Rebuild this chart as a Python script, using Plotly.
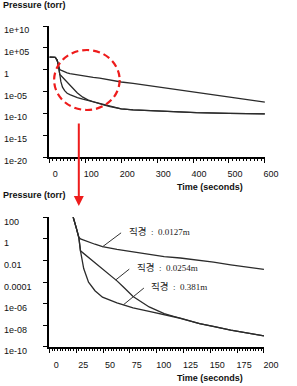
import numpy as np
import plotly.graph_objects as go

# ---------------- data ----------------
time_s = [0, 12, 16, 19, 22, 25, 27.5, 29, 32, 36.5, 42.5, 49.5, 57, 63, 69, 78,
          93, 107, 122, 140, 153, 169, 200, 233, 300, 409, 500, 600]

p_0127 = [760, 740, 630, 320, 120, 11, 1.4, 1.0, 0.76, 0.5, 0.32, 0.19, 0.13, 0.105,
          0.085, 0.063, 0.035, 0.023, 0.017, 0.011, 0.0071, 0.004, 0.0015, 7.1e-4,
          1.1e-4, 6.3e-6, 5.6e-7, 3.5e-8]
p_0254 = [760, 740, 630, 320, 120, 11, 1.26, 0.079, 0.045, 0.018, 0.0056, 0.0015,
          4.0e-4, 1.3e-4, 3.5e-5, 4.7e-6, 5.0e-7, 1.2e-7, 4.5e-8, 1.4e-8, 7.9e-9,
          3.5e-9, 1.07e-9, 6.3e-10, 3.2e-10, 1.45e-10, 1.0e-10, 7.9e-11]
p_0381 = [760, 740, 630, 320, 120, 11, 1.26, 0.079, 1.8e-3, 1.0e-4, 1.6e-5, 4.0e-6,
          1.9e-6, 1.2e-6, 7.9e-7, 4.2e-7, 1.9e-7, 9.5e-8, 4.5e-8, 1.4e-8, 7.9e-9,
          3.5e-9, 1.07e-9, 6.3e-10, 3.2e-10, 1.45e-10, 1.0e-10, 7.9e-11]

label_word = "직경"
label_values = ["0.0127m", "0.0254m", "0.381m"]
label_times = [49.6, 61.9, 69.0]          # where each callout touches its curve

top_tickvals = [1e10, 1e5, 1, 1e-5, 1e-10, 1e-15, 1e-20]
top_ticktext = ["1e+10", "1e+05", "1", "1e-05", "1e-10", "1e-15", "1e-20"]
bot_tickvals = [100, 1, 0.01, 1e-4, 1e-6, 1e-8, 1e-10]
bot_ticktext = ["100", "1", "0.01", "0.0001", "1e-06", "1e-08", "1e-10"]

zoom_max_t = 200

# ---------------- figure ----------------
W, H = 297, 386
def px(x): return x / W
def py(y): return 1 - y / H

LINE = "#2b2b2b"
RED = "#ee1c1c"
NARROW = "Liberation Sans Narrow, Arial Narrow, Liberation Sans, Arial"
tick_font = dict(family=NARROW, size=9, color="#111")

fig = go.Figure()
t_arr = np.array(time_s)
all_p = [p_0127, p_0254, p_0381]
for p in all_p:
    fig.add_trace(go.Scatter(x=time_s, y=p, mode="lines", xaxis="x", yaxis="y",
                             line=dict(color=LINE, width=1.3), showlegend=False,
                             hoverinfo="skip"))
for p in all_p:
    m = t_arr <= zoom_max_t
    fig.add_trace(go.Scatter(x=t_arr[m], y=np.array(p)[m], mode="lines", xaxis="x2",
                             yaxis="y2", line=dict(color=LINE, width=1.3),
                             showlegend=False, hoverinfo="skip"))

axis_common = dict(showline=True, linecolor="black", linewidth=1.8, showgrid=False,
                   zeroline=False, ticks="outside", tickcolor="black", tickwidth=1.2,
                   ticklen=4)

fig.update_layout(
    width=W, height=H, margin=dict(l=0, r=0, t=0, b=0),
    paper_bgcolor="white", plot_bgcolor="white",
    xaxis=dict(domain=[px(52), px(279)], anchor="y", range=[0, 600], tick0=0,
               dtick=100, tickfont=tick_font, ticklabelshift=6, ticklabelstandoff=3,
               minor=dict(dtick=10, ticks="outside", ticklen=2, tickcolor="black",
                          tickwidth=1),
               **axis_common),
    yaxis=dict(domain=[py(157), py(26)], anchor="x", type="log", range=[-20, 10],
               tickvals=top_tickvals, showticklabels=False, **axis_common),
    xaxis2=dict(domain=[px(52), px(278)], anchor="y2", range=[0, 200], tick0=0,
                dtick=25, tickfont=tick_font, ticklabelshift=7, ticklabelstandoff=4,
                minor=dict(dtick=2.5, ticks="outside", ticklen=2, tickcolor="black",
                           tickwidth=1),
                **axis_common),
    yaxis2=dict(domain=[py(346.9), py(217.3)], anchor="x2", type="log",
                range=[-10, 2], tickvals=bot_tickvals, showticklabels=False,
                **axis_common),
)

ann = []
# y tick labels, left aligned like the original
for v, s in zip(top_tickvals, top_ticktext):
    ann.append(dict(x=px(2), xref="paper", y=np.log10(v), yref="y", text=s,
                    xanchor="left", yanchor="middle", yshift=-4, showarrow=False,
                    font=tick_font))
for v, s in zip(bot_tickvals, bot_ticktext):
    ann.append(dict(x=px(2), xref="paper", y=np.log10(v), yref="y2", text=s,
                    xanchor="left", yanchor="middle", yshift=-4.5, showarrow=False,
                    font=tick_font))

title_font = dict(family=NARROW, size=9, color="#111")
for yy in (4.7, 195):
    ann.append(dict(x=px(1), y=py(yy), xref="paper", yref="paper",
                    text="<b>Pressure (torr)</b>", xanchor="left", yanchor="middle",
                    showarrow=False, font=title_font))
for yy in (187, 378):
    ann.append(dict(x=px(258), y=py(yy), xref="paper", yref="paper",
                    text="<b>Time (seconds)</b>", xanchor="right", yanchor="middle",
                    showarrow=False, font=title_font))

# red arrow
ann.append(dict(x=px(83), y=py(206), xref="paper", yref="paper", text="",
                showarrow=True, ax=0, ay=-84, arrowhead=2, arrowsize=1,
                arrowwidth=2, arrowcolor=RED, standoff=0))

shapes = [dict(type="circle", xref="paper", yref="paper", x0=px(57), x1=px(126),
               y0=py(110), y1=py(50), line=dict(color=RED, width=2.2, dash="7px,4px"))]

# callouts: leader line from the curve up-right to the label
offsets = [(20, 15), (15, 12), (22, 18)]
NB = "\u00a0"
for val, tl, p, (dx, dy) in zip(label_values, label_times, all_p, offsets):
    ly = float(np.interp(tl, time_s, np.log10(p)))
    ann.append(dict(x=tl, y=ly, xref="x2", yref="y2", text="", showarrow=True,
                    ax=dx, ay=-dy, arrowhead=0, arrowwidth=1, arrowcolor="#333",
                    standoff=0, startstandoff=0))
    txt = (f"<span style='font-family:Noto Sans CJK KR;font-size:9.5px'>{label_word}"
           f"</span>{NB}{NB}:{NB}{NB}{val}")
    ann.append(dict(x=tl, y=ly, xref="x2", yref="y2", text=txt, xanchor="left",
                    yanchor="middle", xshift=dx + 4, yshift=dy + 1, showarrow=False,
                    font=dict(family="Liberation Serif, Noto Sans CJK KR", size=9,
                              color="#222")))

fig.update_layout(annotations=ann, shapes=shapes)
fig.write_html("out.html")
